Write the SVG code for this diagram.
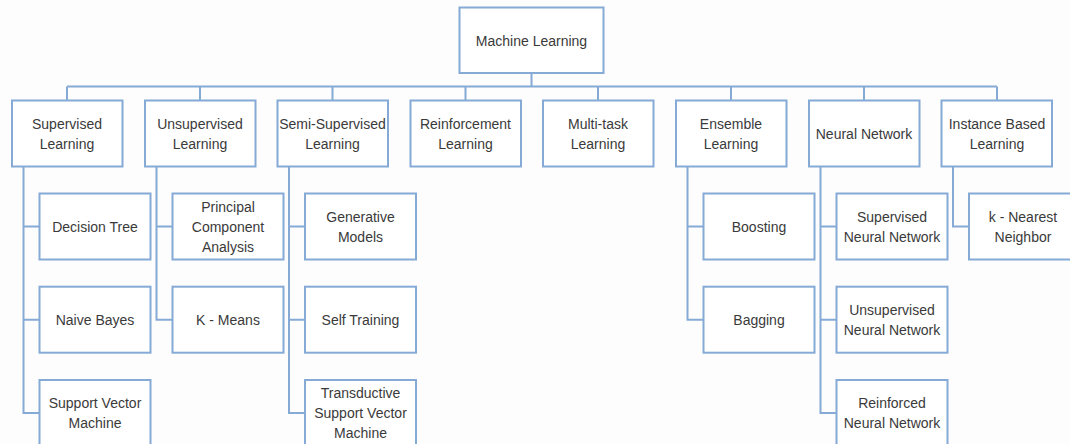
<svg xmlns="http://www.w3.org/2000/svg" width="1070" height="444" viewBox="0 0 1070 444">
<style>
.box{fill:#ffffff;stroke:#86aad6;stroke-width:2}
.ln{fill:none;stroke:#86aad6;stroke-width:2}
text{font-family:"Liberation Sans",Arial,sans-serif;font-size:14px;fill:#3a3a3a;text-anchor:middle}
</style>
<rect width="1070" height="444" fill="#fdfdfd"/>
<g id="connectors">
<path class="ln" d="M531.5 73V86.5M67 86.5H997M67 86.5V100.5M200 86.5V100.5M332.5 86.5V100.5M465.5 86.5V100.5M598 86.5V100.5M731 86.5V100.5M864 86.5V100.5M997 86.5V100.5"/>
<path class="ln" d="M23.5 166.5V413H39.5M23.5 226.5H39.5M23.5 319.7H39.5"/>
<path class="ln" d="M156.5 166.5V319.7H172.5M156.5 226.5H172.5"/>
<path class="ln" d="M289 166.5V413H305M289 226.5H305M289 319.7H305"/>
<path class="ln" d="M687.5 166.5V319.7H703.5M687.5 226.5H703.5"/>
<path class="ln" d="M820.5 166.5V413H836.5M820.5 226.5H836.5M820.5 319.7H836.5"/>
<path class="ln" d="M953 166.5V226.5H969"/>
</g>
<g id="ml"><rect class="box" x="459.5" y="7.5" width="144" height="65.5"/><text x="531.5" y="46">Machine Learning</text></g>
<g id="supervised"><rect class="box" x="12" y="100.5" width="110.5" height="66"/><text x="67" y="128.5">Supervised</text><text x="67" y="148.5">Learning</text></g>
<g id="unsupervised"><rect class="box" x="145" y="100.5" width="110.5" height="66"/><text x="200" y="128.5">Unsupervised</text><text x="200" y="148.5">Learning</text></g>
<g id="semi"><rect class="box" x="277.5" y="100.5" width="110.5" height="66"/><text x="332.5" y="128.5">Semi-Supervised</text><text x="332.5" y="148.5">Learning</text></g>
<g id="reinforcement"><rect class="box" x="410.5" y="100.5" width="110.5" height="66"/><text x="465.5" y="128.5">Reinforcement</text><text x="465.5" y="148.5">Learning</text></g>
<g id="multitask"><rect class="box" x="543" y="100.5" width="110.5" height="66"/><text x="598" y="128.5">Multi-task</text><text x="598" y="148.5">Learning</text></g>
<g id="ensemble"><rect class="box" x="676" y="100.5" width="110.5" height="66"/><text x="731" y="128.5">Ensemble</text><text x="731" y="148.5">Learning</text></g>
<g id="neural"><rect class="box" x="809" y="100.5" width="110.5" height="66"/><text x="864" y="138.5">Neural Network</text></g>
<g id="instance"><rect class="box" x="941.5" y="100.5" width="110.5" height="66"/><text x="997" y="128.5">Instance Based</text><text x="997" y="148.5">Learning</text></g>
<g id="decision-tree"><rect class="box" x="39.5" y="193.5" width="111" height="66"/><text x="95" y="231.5">Decision Tree</text></g>
<g id="naive-bayes"><rect class="box" x="39.5" y="286.7" width="111" height="66"/><text x="95" y="324.7">Naive Bayes</text></g>
<g id="svm"><rect class="box" x="39.5" y="380" width="111" height="66"/><text x="95" y="408">Support Vector</text><text x="95" y="428">Machine</text></g>
<g id="pca"><rect class="box" x="172.5" y="193.5" width="111" height="66"/><text x="228" y="211.5">Principal</text><text x="228" y="231.5">Component</text><text x="228" y="251.5">Analysis</text></g>
<g id="kmeans"><rect class="box" x="172.5" y="286.7" width="111" height="66"/><text x="228" y="324.7">K - Means</text></g>
<g id="generative"><rect class="box" x="305" y="193.5" width="111" height="66"/><text x="360.5" y="221.5">Generative</text><text x="360.5" y="241.5">Models</text></g>
<g id="self-training"><rect class="box" x="305" y="286.7" width="111" height="66"/><text x="360.5" y="324.7">Self Training</text></g>
<g id="tsvm"><rect class="box" x="305" y="380" width="111" height="66"/><text x="360.5" y="398">Transductive</text><text x="360.5" y="418">Support Vector</text><text x="360.5" y="438">Machine</text></g>
<g id="boosting"><rect class="box" x="703.5" y="193.5" width="111" height="66"/><text x="759" y="231.5">Boosting</text></g>
<g id="bagging"><rect class="box" x="703.5" y="286.7" width="111" height="66"/><text x="759" y="324.7">Bagging</text></g>
<g id="snn"><rect class="box" x="836.5" y="193.5" width="111" height="66"/><text x="892" y="221.5">Supervised</text><text x="892" y="241.5">Neural Network</text></g>
<g id="unn"><rect class="box" x="836.5" y="286.7" width="111" height="66"/><text x="892" y="314.7">Unsupervised</text><text x="892" y="334.7">Neural Network</text></g>
<g id="rnn"><rect class="box" x="836.5" y="380" width="111" height="66"/><text x="892" y="408">Reinforced</text><text x="892" y="428">Neural Network</text></g>
<g id="knn"><rect class="box" x="969" y="193.5" width="111" height="66"/><text x="1023" y="221.5">k - Nearest</text><text x="1023" y="241.5">Neighbor</text></g>
</svg>
